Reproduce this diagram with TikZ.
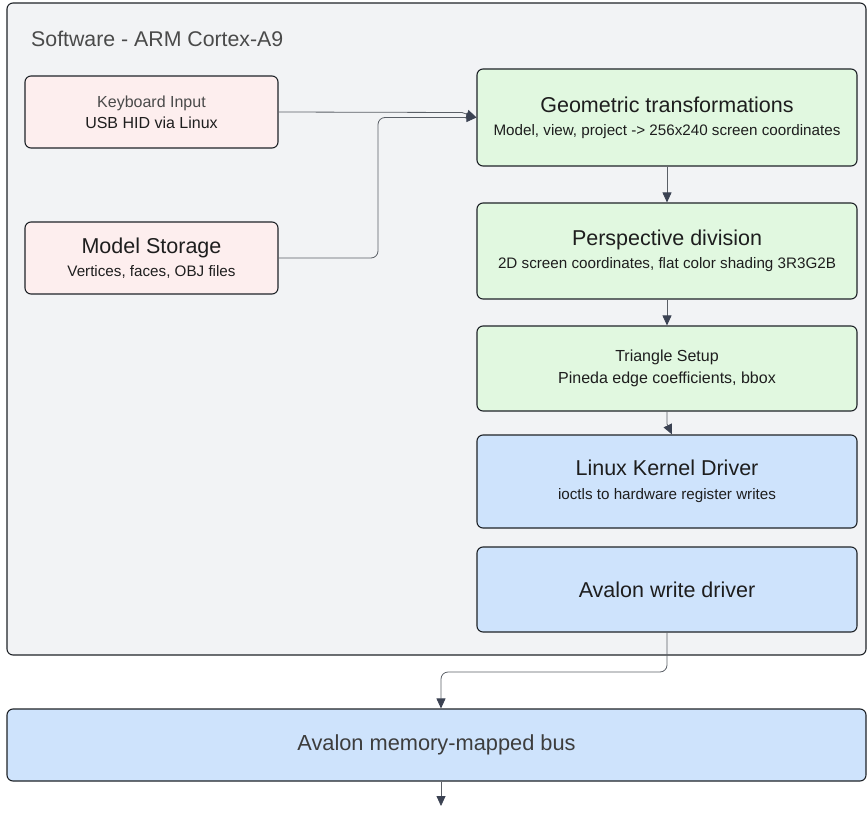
\documentclass[tikz,border=0pt]{standalone}
\usepackage{fontspec}
\setmainfont{Liberation Sans}
\usetikzlibrary{arrows.meta,calc}
\definecolor{contfill}{HTML}{F2F3F5}
\definecolor{pinkfill}{HTML}{FDEEEE}
\definecolor{greenfill}{HTML}{E1F8E0}
\definecolor{bluefill}{HTML}{CEE3FC}
\definecolor{edgec}{HTML}{1F2328}
\definecolor{txt}{HTML}{1E1E1E}
\definecolor{graytxt}{HTML}{4A4A4A}
\definecolor{wire}{HTML}{5A5F66}
\definecolor{tipc}{HTML}{3B4252}
\newcommand{\hdfont}{\fontsize{21.5}{25}\selectfont}
\newcommand{\subfont}{\fontsize{15.2}{21}\selectfont}
\newcommand{\smfont}{\fontsize{16}{21}\selectfont}
\begin{document}
\begin{tikzpicture}[x=1pt,y=-1pt,
  box/.style={draw=edgec, line width=1.1pt, rounded corners=6pt, inner sep=0pt, align=center, text=txt},
  pinkbox/.style={box, fill=pinkfill, minimum width=253pt, minimum height=72pt},
  greenbox/.style={box, fill=greenfill, minimum width=380pt},
  bluebox/.style={box, fill=bluefill, minimum width=380pt},
  skip21/.style={font=\fontsize{15}{21}\selectfont},
  skip22/.style={font=\fontsize{15}{22}\selectfont},
  skip23/.style={font=\fontsize{15}{23}\selectfont},
  skip24/.style={font=\fontsize{15}{24}\selectfont},
  conn/.style={draw=wire, line width=0.8pt, rounded corners=7pt, -{Triangle[length=10pt,width=9pt,color=tipc]}}
]
\useasboundingbox (0,0) rectangle (867,813);
% container
\node[box, fill=contfill, minimum width=859pt, minimum height=652pt] (sw) at (436.5,329) {};
\node[anchor=base west, text=graytxt, inner sep=0pt, font=\fontsize{21.3}{24}\selectfont] (title) at (31,47) {Software - ARM Cortex-A9};
% left boxes
\node[pinkbox, skip21] (kb) at (151.5,112) {{\smfont\color{graytxt}Keyboard Input}\\{\smfont USB HID via Linux}};
\node[pinkbox, skip23] (ms) at (151.5,258) {{\hdfont Model Storage}\\{\subfont Vertices, faces, OBJ files}};
% pipeline
\node[greenbox, skip23, minimum height=97pt] (geo) at (667,117.5) {{\hdfont Geometric transformations}\\{\subfont Model, view, project -> 256x240 screen coordinates}};
\node[greenbox, skip23, minimum height=96pt] (persp) at (667,251) {{\hdfont Perspective division}\\{\subfont 2D screen coordinates, flat color shading 3R3G2B}};
\node[greenbox, skip22, minimum height=85pt] (tri) at (667,368.5) {{\smfont Triangle Setup}\\{\smfont Pineda edge coefficients, bbox}};
\node[bluebox, skip24, minimum height=93pt] (lkd) at (667,481.5) {{\hdfont Linux Kernel Driver}\\{\subfont ioctls to hardware register writes}};
\node[bluebox, minimum height=85pt] (awd) at (667,589.5) {{\hdfont Avalon write driver}};
\node[box, fill=bluefill, minimum width=859pt, minimum height=72pt, text=graytxt!70!txt] (bus) at (436.5,745) {{\fontsize{21.8}{25}\selectfont Avalon memory-mapped bus}};
% connector helper coordinates
\coordinate (kbk) at (462,112.5);
\coordinate (mbend) at (378,0);
\coordinate (wb) at (441,672);
\coordinate (tk) at (0,424);
\coordinate (out) at (441,806);
% connectors
\draw[conn, rounded corners=0pt] (kb.east) -- (kbk) -- (geo.west);
\draw[conn] (ms.east) -- (ms.east -| mbend) -- (mbend |- geo.west) -- (geo.west);
\draw[conn] (geo.south) -- (persp.north);
\draw[conn] (persp.south) -- (tri.north);
\draw[conn, rounded corners=0pt] (tri.south) -- (tri.south |- tk) -- ($(lkd.north)+(5,0)$);
\draw[conn] (awd.south) -- (awd.south |- wb) -- (wb) -- (bus.north -| wb);
\draw[conn] (bus.south -| wb) -- (out);
\end{tikzpicture}
\end{document}
